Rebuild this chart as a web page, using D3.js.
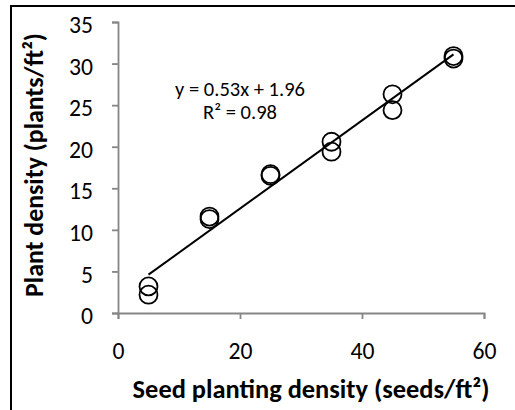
<!DOCTYPE html>
<html>
<head>
<meta charset="utf-8">
<script src="https://cdn.jsdelivr.net/npm/d3@7"></script>
<style>
  body { margin: 0; background: #fff; }
  text { font-family: Carlito, Lato, "Open Sans", sans-serif; fill: #000; }
</style>
</head>
<body>
<svg id="chart" width="515" height="410"></svg>
<script>
// seeding rate (seeds/ft2) and observed stand (plants/ft2)
var seedRate = [5, 5, 15, 15, 25, 25, 35, 35, 45, 45, 55, 55];
var plantDensity = [3.2, 2.2, 11.6, 11.3, 16.7, 16.5, 20.6, 19.4, 26.3, 24.4, 30.9, 30.6];
var xTicks = [0, 20, 40, 60];
var yTicks = [0, 5, 10, 15, 20, 25, 30, 35];
var slope = 0.53, intercept = 1.96, rSquared = 0.98;

var svg = d3.select("#chart");

// outer chart border (runs off the right and bottom edges)
svg.append("rect")
    .attr("x", 11).attr("y", 6)
    .attr("width", 530).attr("height", 430)
    .attr("fill", "none")
    .attr("stroke", "#000")
    .attr("stroke-width", 2);

var x = d3.scaleLinear().domain([0, 60]).range([118, 484]);
var y = d3.scaleLinear().domain([0, 35]).range([313, 22]);

var axisColor = "#868686";

// font size that makes a text span a target width
function fit(sel, w) {
    var len = sel.node().getComputedTextLength();
    var fs = parseFloat(sel.style("font-size"));
    return fs * w / len;
}

var yAxis = svg.append("g")
    .attr("transform", "translate(" + x(0) + ",0)")
    .call(d3.axisLeft(y).tickValues(yTicks).tickSize(6).tickSizeOuter(6).tickPadding(19));
var xAxis = svg.append("g")
    .attr("transform", "translate(0," + y(0) + ")")
    .call(d3.axisBottom(x).tickValues(xTicks).tickSize(6).tickSizeOuter(6).tickPadding(23));

[xAxis, yAxis].forEach(function (g) {
    g.select(".domain").attr("stroke", axisColor).attr("stroke-width", 1.8);
    g.selectAll(".tick line").attr("stroke", axisColor).attr("stroke-width", 1.8);
    g.selectAll(".tick text")
        .attr("fill", "#000")
        .style("font-size", "22px")
        .style("font-family", "Carlito, Lato, 'Open Sans', sans-serif");
});
// "35" is about 24px wide in the reference
var tickFs = fit(yAxis.selectAll(".tick text").filter(d => d === 35), 24);
svg.selectAll(".tick text").style("font-size", tickFs + "px");
yAxis.selectAll(".tick text").attr("dy", "0.45em");
xAxis.selectAll(".tick text").attr("dy", "0.71em");

// trendline over the data range
var xr = d3.extent(seedRate);
svg.append("line")
    .attr("x1", x(xr[0])).attr("y1", y(slope * xr[0] + intercept))
    .attr("x2", x(xr[1])).attr("y2", y(slope * xr[1] + intercept))
    .attr("stroke", "#000")
    .attr("stroke-width", 2);

svg.selectAll(".pt")
    .data(seedRate)
    .enter()
    .append("circle")
    .attr("class", "pt")
    .attr("cx", d => x(d))
    .attr("cy", (d, i) => y(plantDensity[i]))
    .attr("r", 9)
    .attr("fill", "none")
    .attr("stroke", "#000")
    .attr("stroke-width", 1.8);

// trendline label: one text block, two lines
var eq = svg.append("text")
    .attr("text-anchor", "middle")
    .style("font-size", "16px");
var eqLine1 = eq.append("tspan")
    .attr("x", 240).attr("y", 96)
    .text("y = " + slope + "x + " + intercept);
eq.append("tspan")
    .attr("x", 240).attr("y", 119)
    .text("R² = " + rSquared);
eq.style("font-size", fit(eqLine1, 130) + "px");

var xTitle = svg.append("text")
    .attr("x", 311).attr("y", 398)
    .attr("text-anchor", "middle")
    .style("font-weight", "bold")
    .style("font-size", "20px")
    .text("Seed planting density (seeds/ft²)");
xTitle.style("font-size", fit(xTitle, 357) + "px");

var yTitle = svg.append("text")
    .attr("transform", "translate(43,165) rotate(-90)")
    .attr("text-anchor", "middle")
    .style("font-weight", "bold")
    .style("font-size", "20px")
    .text("Plant density (plants/ft²)");
yTitle.style("font-size", fit(yTitle, 264) + "px");
</script>
</body>
</html>
